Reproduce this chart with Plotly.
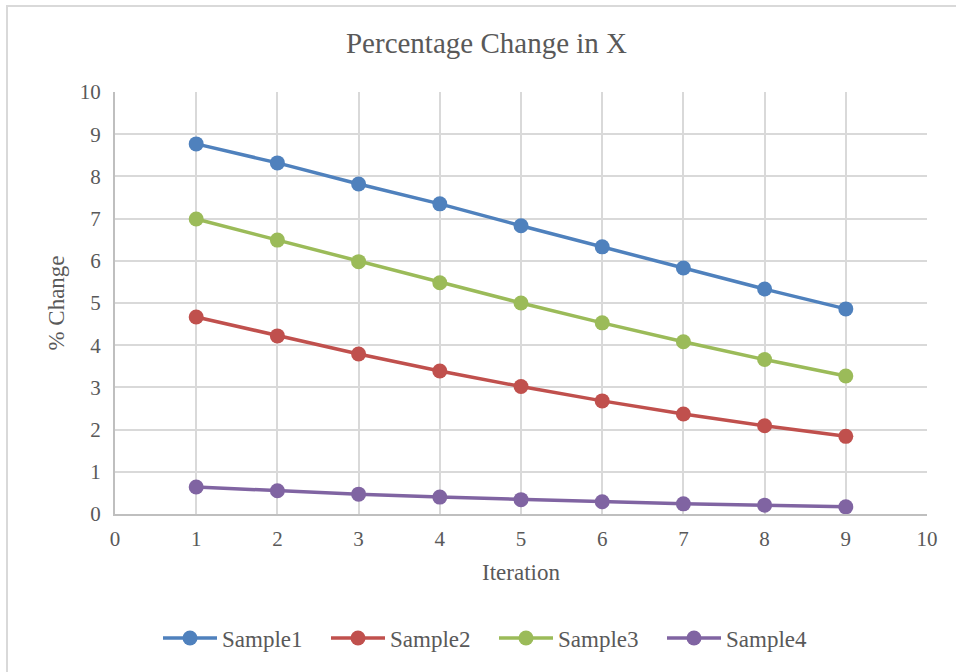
import plotly.graph_objects as go

iterations = [1, 2, 3, 4, 5, 6, 7, 8, 9]
sample1 = [8.77, 8.32, 7.82, 7.35, 6.83, 6.33, 5.83, 5.33, 4.86]
sample2 = [4.67, 4.22, 3.79, 3.39, 3.02, 2.68, 2.37, 2.09, 1.84]
sample3 = [6.99, 6.49, 5.98, 5.48, 5.00, 4.53, 4.08, 3.66, 3.27]
sample4 = [0.64, 0.55, 0.47, 0.40, 0.34, 0.29, 0.24, 0.21, 0.17]

series_names = ["Sample1", "Sample2", "Sample3", "Sample4"]
series_values = [sample1, sample2, sample3, sample4]
series_colors = ["#4f81bd", "#c0504d", "#9bbb59", "#8064a2"]

FONT = "Liberation Serif, Times New Roman, serif"
TEXT = "#595959"

fig = go.Figure()
for name, vals, col in zip(series_names, series_values, series_colors):
    fig.add_trace(go.Scatter(
        x=iterations, y=vals, name=name, mode="lines+markers",
        line=dict(color=col, width=3.5),
        marker=dict(color=col, size=15),
    ))

W, H = 956, 672
ml, mr, mt, mb = 115, 29, 92, 158
pw, ph = W - ml - mr, H - mt - mb

def px_to_paper_x(px):
    return (px - ml) / pw

def px_to_paper_y(py):
    return (H - mb - py) / ph

fig.update_layout(
    width=W, height=H,
    margin=dict(l=ml, r=mr, t=mt, b=mb),
    paper_bgcolor="white", plot_bgcolor="white",
    font=dict(family=FONT, color=TEXT, size=22),
    title=dict(text="Percentage Change in X", x=486.5 / W, xanchor="center",
               y=1 - 43 / H, yanchor="middle",
               font=dict(family=FONT, size=29, color=TEXT)),
    xaxis=dict(range=[0, 10], dtick=1, tick0=0,
               showgrid=True, gridcolor="#d9d9d9", gridwidth=2,
               showline=True, linecolor="#bfbfbf", linewidth=2,
               zeroline=False, ticks="", ticklen=0, ticklabelstandoff=5,
               tickfont=dict(size=21, color=TEXT),
               title=dict(text="Iteration", font=dict(size=23, color=TEXT), standoff=14)),
    yaxis=dict(range=[0, 10], dtick=1, tick0=0,
               showgrid=True, gridcolor="#d9d9d9", gridwidth=2,
               showline=True, linecolor="#bfbfbf", linewidth=2,
               zeroline=False, ticks="", ticklen=0, ticklabelstandoff=8,
               tickfont=dict(size=21, color=TEXT),
               title=dict(text="% Change", font=dict(size=23, color=TEXT), standoff=9)),
    legend=dict(orientation="h", x=px_to_paper_x(158), xanchor="left",
                y=px_to_paper_y(638), yanchor="middle",
                font=dict(size=23, color=TEXT),
                itemwidth=54, entrywidth=99, tracegroupgap=0),
    shapes=[dict(type="rect", xref="paper", yref="paper",
                 x0=px_to_paper_x(7), y0=px_to_paper_y(680),
                 x1=px_to_paper_x(970), y1=px_to_paper_y(6),
                 line=dict(color="#d9d9d9", width=2), fillcolor="rgba(0,0,0,0)",
                 layer="below")],
)

fig.write_html("out.html")
